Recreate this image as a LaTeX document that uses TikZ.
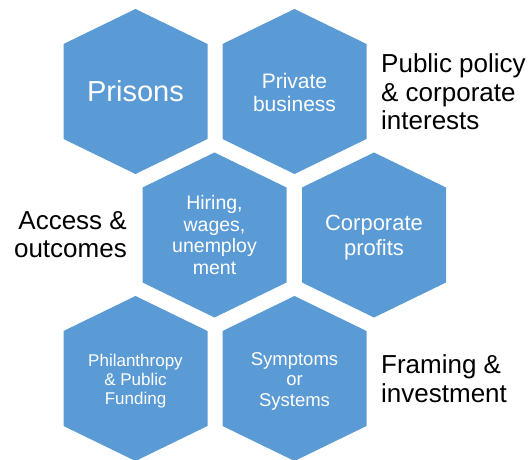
\documentclass[tikz,border=0pt]{standalone}
\usepackage{fontspec}
\setmainfont{Liberation Sans}
\definecolor{hexblue}{HTML}{5B9BD5}
\tikzset{
  hexa/.pic={\fill[hexblue] (0,-82.5) -- (72,-47.5) -- (72,47.5) -- (0,82.5) -- (-72,47.5) -- (-72,-47.5) -- cycle;},
  intext/.style={text=white, align=center, inner sep=0pt},
  outtext/.style={text=black, inner sep=0pt}
}
\begin{document}
\begin{tikzpicture}[x=1pt,y=-1pt]
\useasboundingbox (0,0) rectangle (531,460);
% hexagons
\pic at (135.5,91.5) {hexa};
\pic at (294.5,91.5) {hexa};
\pic at (214.5,235) {hexa};
\pic at (374,235) {hexa};
\pic at (135.5,378.5) {hexa};
\pic at (294.5,378.5) {hexa};
% hexagon texts
\node[intext, font=\fontsize{29}{32}\selectfont] (prisons) at (135.5,91) {Prisons};
\node[intext, font=\fontsize{21}{23}\selectfont] (private) at (294.5,92.5) {Private\\business};
\node[intext, font=\fontsize{19.5}{21.5}\selectfont] (hiring) at (214.5,235) {Hiring,\\wages,\\unemploy\\ment};
\node[intext, font=\fontsize{22}{25}\selectfont] (profits) at (374,237.5) {Corporate\\profits};
\node[intext, font=\fontsize{17}{18.7}\selectfont] (phil) at (135.5,381) {Philanthropy\\\& Public\\Funding};
\node[intext, font=\fontsize{18.5}{20.5}\selectfont] (symp) at (294.5,381) {Symptoms\\or\\Systems};
% outside labels
\node[outtext, anchor=west, align=left, font=\fontsize{26}{28.5}\selectfont] (policy) at (381,92) {Public policy\\\& corporate\\interests};
\node[outtext, anchor=east, align=right, font=\fontsize{26}{28.5}\selectfont] (access) at (127,234.5) {Access \&\\outcomes};
\node[outtext, anchor=west, align=left, font=\fontsize{26}{28.5}\selectfont] (framing) at (381,378.5) {Framing \&\\investment};
\end{tikzpicture}
\end{document}
